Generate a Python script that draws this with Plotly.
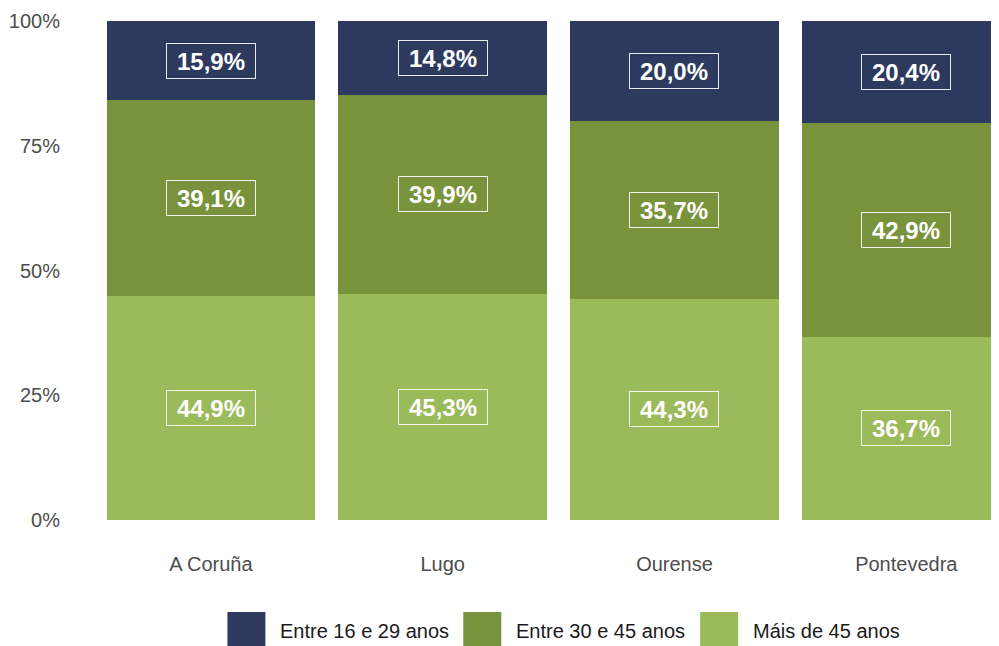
import plotly.graph_objects as go

provinces = ["A Coruña", "Lugo", "Ourense", "Pontevedra"]
series_names = ["Máis de 45 anos", "Entre 30 e 45 anos", "Entre 16 e 29 anos"]
series_colors = ["#9BBA59", "#78933C", "#2D3A5E"]
mais45 = [44.9, 45.3, 44.3, 36.7]
entre30_45 = [39.1, 39.9, 35.7, 42.9]
entre16_29 = [15.9, 14.8, 20.0, 20.4]
series_values = [mais45, entre30_45, entre16_29]
y_ticks = [0, 25, 50, 75, 100]
y_tick_labels = ["0%", "25%", "50%", "75%", "100%"]

FONT = "Liberation Sans, Arial, sans-serif"
OFF = 8  # default page body margin
W, H = 999 - OFF, 646 - OFF
L, R, T, B = 94.5 - OFF, 0, 21 - OFF, 126

fig = go.Figure()
for name, vals, col in zip(series_names, series_values, series_colors):
    fig.add_trace(go.Bar(x=provinces, y=vals, name=name, marker_color=col,
                         marker_line_width=0, showlegend=False))

# labels at segment centres (normalised stacking)
annotations = []
for i, prov in enumerate(provinces):
    total = sum(s[i] for s in series_values)
    cum = 0.0
    for s in series_values:
        v = s[i] / total * 100
        mid = cum + v / 2
        cum += v
        annotations.append(dict(
            x=prov, y=mid, xref="x", yref="y",
            text="<b>" + f"{s[i]:.1f}".replace(".", ",") + "%</b>",
            showarrow=False, font=dict(family=FONT, size=24, color="white"),
            bordercolor="rgba(255,255,255,0.9)", borderwidth=1, borderpad=2,
            width=84, height=30, bgcolor="rgba(0,0,0,0)"))

# custom legend (large keys); positions given in screenshot pixels
pw, ph = W - L - R, H - T - B
def px2x(p):
    return (p - OFF - L) / pw
def py2y(p):
    return (H - B - (p - OFF)) / ph

shapes = []
legend_order = list(zip(series_names, series_colors))[::-1]
key_left = [227, 463, 700]
for (name, col), kx in zip(legend_order, key_left):
    shapes.append(dict(type="rect", xref="paper", yref="paper",
                       x0=px2x(kx), x1=px2x(kx + 38), y0=py2y(612), y1=py2y(650),
                       fillcolor=col, line_width=0, layer="above"))
    annotations.append(dict(x=px2x(kx + 51), y=py2y(631), xref="paper", yref="paper",
                            xanchor="left", yanchor="middle", text=name, showarrow=False,
                            font=dict(family=FONT, size=20, color="#1a1a1a")))

fig.update_layout(
    width=W, height=H,
    margin=dict(l=L, r=R, t=T, b=B, pad=0),
    barmode="stack", barnorm="percent", bargap=0.1,
    plot_bgcolor="white", paper_bgcolor="white",
    font=dict(family=FONT, size=20, color="#4D4D4D"),
    showlegend=False,
    annotations=annotations, shapes=shapes,
    xaxis=dict(range=[-0.5, 3.4], showgrid=False, zeroline=False, showline=False,
               ticks="outside", ticklen=26, tickcolor="rgba(0,0,0,0)",
               tickfont=dict(family=FONT, size=20, color="#4D4D4D")),
    yaxis=dict(range=[0, 100], tickvals=y_ticks, ticktext=y_tick_labels,
               showgrid=False, zeroline=False, showline=False,
               ticks="outside", ticklen=30, tickcolor="rgba(0,0,0,0)",
               tickfont=dict(family=FONT, size=20, color="#4D4D4D")),
)

fig.write_html("out.html")
